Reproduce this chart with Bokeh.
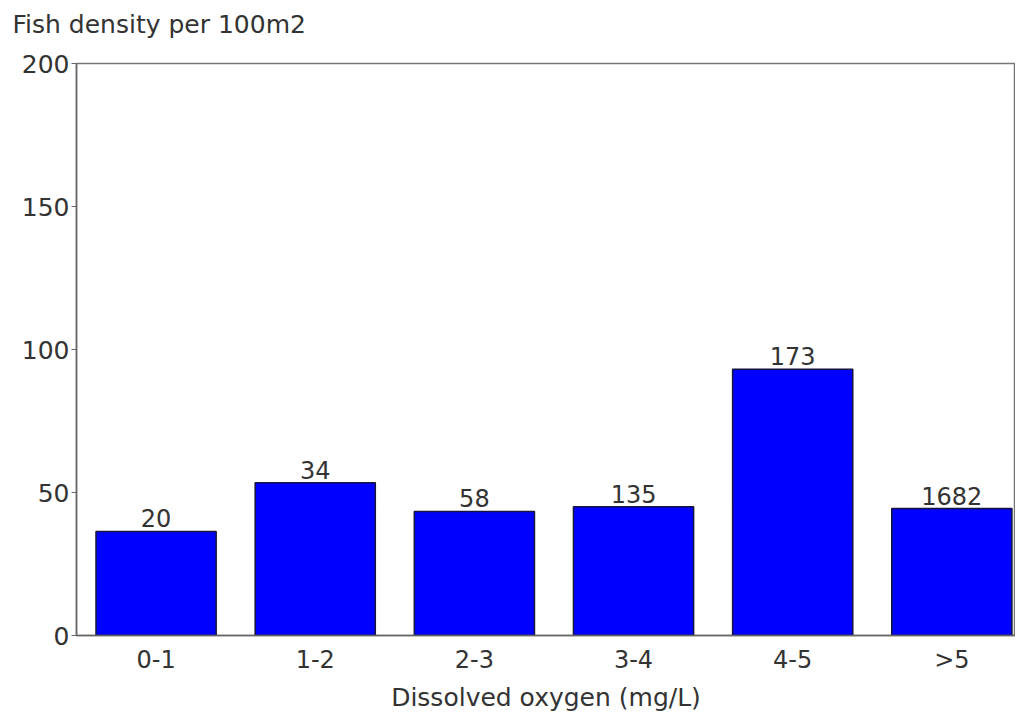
from bokeh.plotting import figure
from bokeh.models import ColumnDataSource, Range1d, FixedTicker, Title
from bokeh.core.properties import value
from bokeh.embed import file_html
from bokeh.resources import INLINE

categories = ["0-1", "1-2", "2-3", "3-4", "4-5", ">5"]
density = [36.4, 53.4, 43.4, 45.0, 93.1, 44.4]
counts = [20, 34, 58, 135, 173, 1682]
y_ticks = [0, 50, 100, 150, 200]
title_text = "Fish density per 100m2"

FONT = "DejaVu Sans"
TXT = "#333333"

xs = list(range(len(categories)))
src = ColumnDataSource(dict(x=xs, top=density, label=[str(c) for c in counts]))

p = figure(width=1015, height=714, output_backend="svg", toolbar_location=None,
           x_range=Range1d(-0.5, 5.4), y_range=Range1d(0, 200),
           min_border_left=76, min_border_top=63, min_border_right=0, min_border_bottom=73)

# blank spacer between frame and title, then the title itself (stacked outward)
p.add_layout(Title(text=" ", text_font=FONT, text_font_size="10px", standoff=11), "above")
p.add_layout(Title(text=title_text, align="left", offset=-64,
                   text_font=FONT, text_font_size="25px", text_font_style="normal",
                   text_color=TXT, standoff=2), "above")

p.vbar(x="x", top="top", width=0.755, bottom=0, source=src,
       fill_color="#0000FF", line_color="#15153a", line_width=1.5)
p.text(x="x", y="top", text="label", source=src, text_align="center",
       text_baseline="bottom", y_offset=-4, text_font=value(FONT),
       text_font_size="24px", text_color=TXT)

p.xgrid.visible = False
p.ygrid.visible = False
p.outline_line_color = "#777777"
p.outline_line_width = 1.5

xa = p.xaxis[0]
xa.ticker = FixedTicker(ticks=xs)
xa.major_label_overrides = {i: c for i, c in enumerate(categories)}
xa.major_tick_out = 0
xa.major_tick_in = 0
xa.minor_tick_out = 0
xa.minor_tick_in = 0
xa.major_label_standoff = 10
xa.axis_label = "Dissolved oxygen (mg/L)"
xa.axis_label_standoff = 6
xa.axis_label_text_font = FONT
xa.axis_label_text_font_size = "25px"
xa.axis_label_text_font_style = "normal"
xa.axis_label_text_color = TXT
xa.major_label_text_font = FONT
xa.major_label_text_font_size = "24px"
xa.major_label_text_color = TXT
xa.axis_line_color = "#666666"
xa.axis_line_width = 1.5

ya = p.yaxis[0]
ya.ticker = FixedTicker(ticks=y_ticks)
ya.major_tick_out = 5
ya.major_tick_in = 0
ya.minor_tick_out = 0
ya.minor_tick_in = 0
ya.major_tick_line_color = "#666666"
ya.major_label_standoff = 2
ya.major_label_text_font = FONT
ya.major_label_text_font_size = "25px"
ya.major_label_text_color = TXT
ya.axis_line_color = "#666666"
ya.axis_line_width = 1.5

open("out.html", "w").write(file_html(p, INLINE))
